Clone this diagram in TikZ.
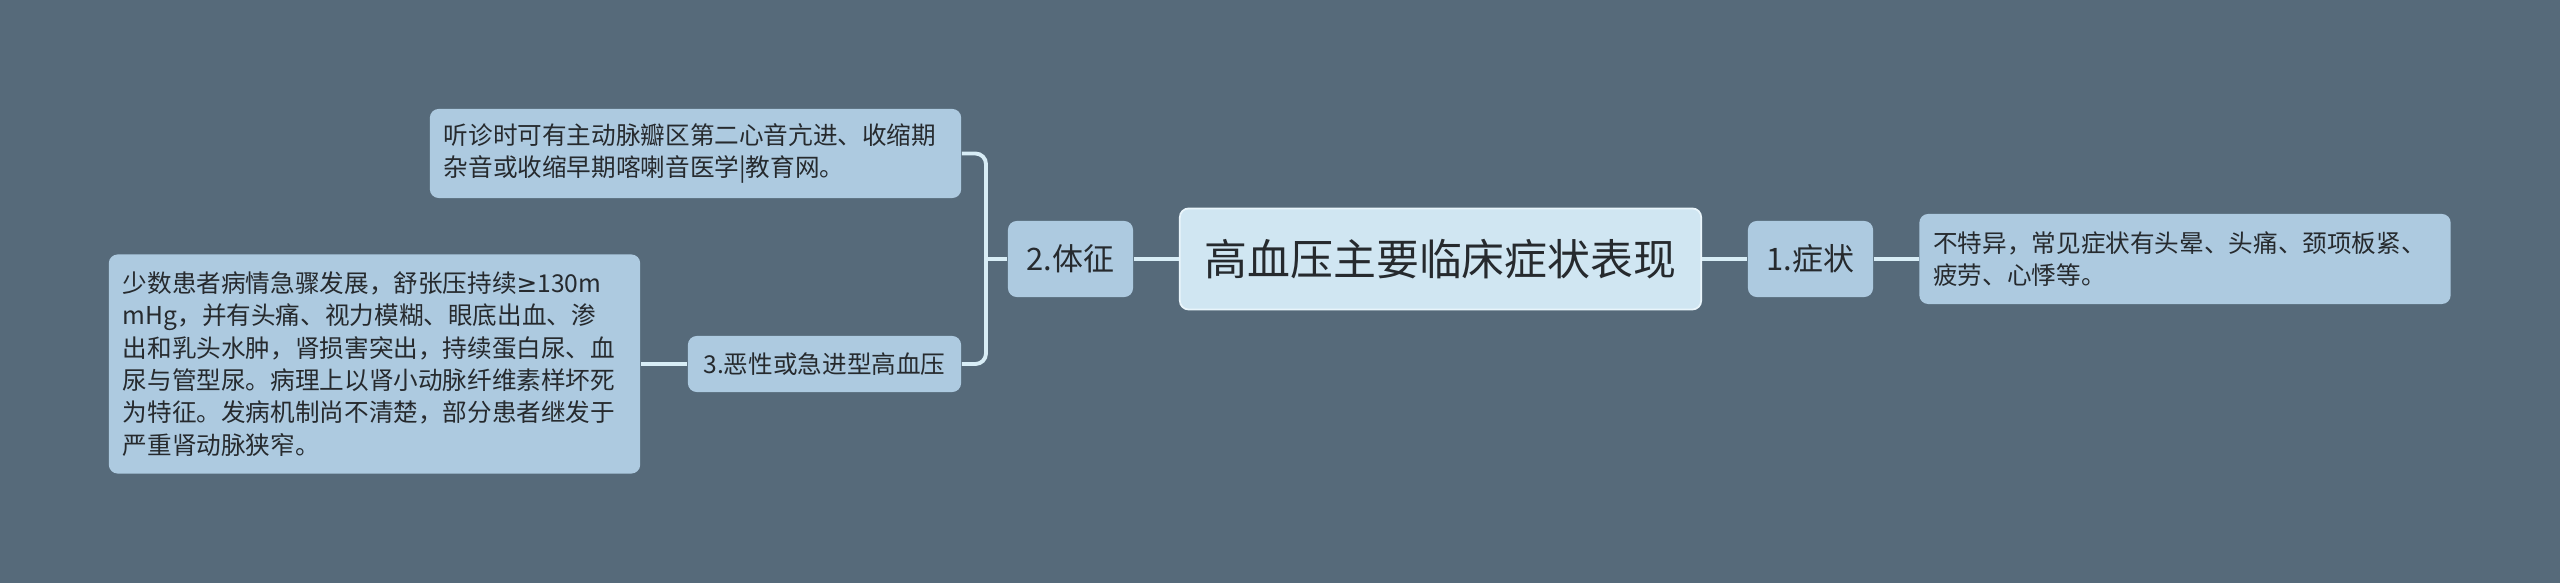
\documentclass[tikz,border=0pt]{standalone}
\usepackage{fontspec}
\setmainfont{Noto Sans CJK SC}
\newfontfamily\symfont{DejaVu Sans}
\definecolor{bgslate}{HTML}{566A7A}
\definecolor{boxblue}{HTML}{ADCAE0}
\definecolor{rootblue}{HTML}{D0E6F2}
\definecolor{rootedge}{HTML}{E9F5FB}
\definecolor{linkblue}{HTML}{D8EDF6}
\definecolor{textdark}{HTML}{262A2E}
\begin{document}
\begin{tikzpicture}[x=0.01cm,y=-0.01cm,
    box/.style={rounded corners=2.5pt, fill=boxblue, text=textdark, inner sep=0pt},
    leaf/.style={box, align=left, text width=5.03cm, inner xsep=0.14cm,
        font=\fontsize{7pt}{9.2pt}\selectfont},
    topic/.style={box, minimum width=1.25cm, minimum height=0.76cm,
        font=\fontsize{8.8pt}{10pt}\selectfont},
    link/.style={draw=linkblue, line width=1.1pt, rounded corners=3pt}]

    \fill[bgslate] (0,0) rectangle (2560,583);
    \useasboundingbox (0,0) rectangle (2560,583);

    % root
    \node[box, fill=rootblue, draw=rootedge, line width=0.5pt, minimum width=5.21cm,
        minimum height=1.01cm, font=\fontsize{12.2pt}{14pt}\selectfont]
        (root) at (1440.5,259) {高血压主要临床症状表现};

    % right branch
    \node[topic] (symp) at (1810.5,259) {1.症状};
    \node[leaf, minimum height=0.90cm] (sympleaf) at (2185,259)
        {不特异，常见症状有头晕、头痛、颈项板紧、\\疲劳、心悸等。};

    % left branch
    \node[topic] (sign) at (1070.5,259) {2.体征};
    \node[leaf, minimum height=0.89cm] (auscult) at (695.5,153.5)
        {听诊时可有主动脉瓣区第二心音亢进、收缩期\\杂音或收缩早期喀喇音医学|教育网。};
    \node[box, minimum width=2.73cm, minimum height=0.56cm,
        font=\fontsize{7pt}{9pt}\selectfont] (malig) at (824.5,364) {3.恶性或急进型高血压};
    \node[leaf, minimum height=2.19cm] (maligleaf) at (374.5,364)
        {少数患者病情急骤发展，舒张压持续{\symfont ≥}130m\\mHg，并有头痛、视力模糊、眼底出血、渗\\出和乳头水肿，肾损害突出，持续蛋白尿、血\\尿与管型尿。病理上以肾小动脉纤维素样坏死\\为特征。发病机制尚不清楚，部分患者继发于\\严重肾动脉狭窄。};

    \coordinate (fork) at (986,259);

    \draw[link] (root.east) -- (symp.west);
    \draw[link] (symp.east) -- (sympleaf.west);
    \draw[link] (root.west) -- (sign.east);
    \draw[link] (sign.west) -- (fork);
    \draw[link] (auscult.east) -| (fork);
    \draw[link] (malig.east) -| (fork);
    \draw[link] (malig.west) -- (maligleaf.east);

\end{tikzpicture}
\end{document}
